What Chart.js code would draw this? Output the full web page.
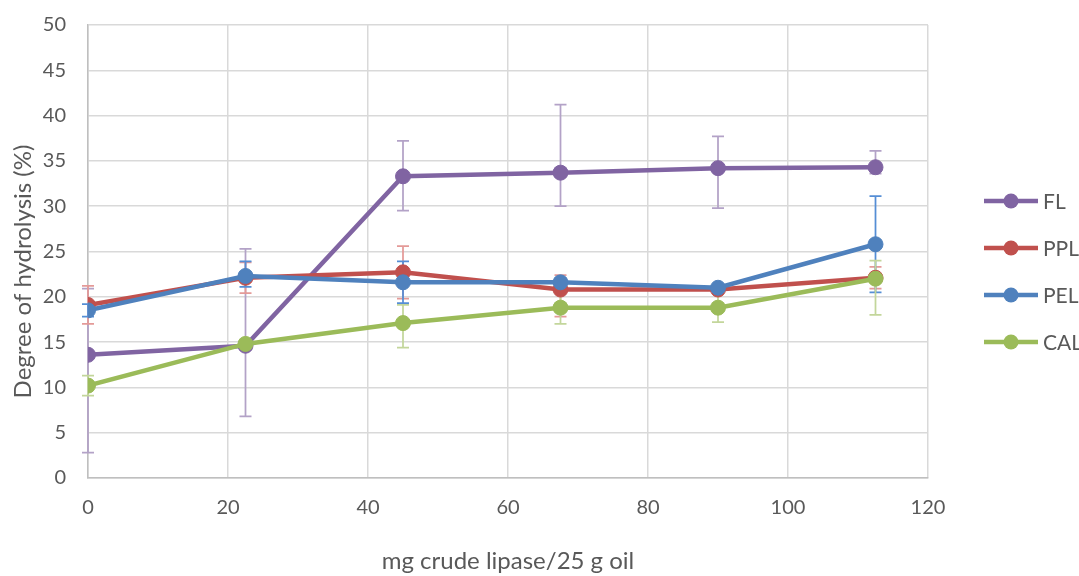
<!DOCTYPE html>
<html>
<head>
<meta charset="utf-8">
<script src="https://cdn.jsdelivr.net/npm/chart.js@4"></script>
<style>
  html, body { margin: 0; padding: 0; background: #fff; }
  #wrap { width: 1079px; height: 576px; }
</style>
</head>
<body>
<div id="wrap"><canvas id="hydroChart" width="1079" height="576"></canvas></div>
<script>
// values
const doses = [0, 22.5, 45, 67.5, 90, 112.5];
const xTicks = [0, 20, 40, 60, 80, 100, 120];

const flValues = [13.6, 14.6, 33.3, 33.7, 34.2, 34.3];
const flHigh = [20.9, 25.3, 37.2, 41.2, 37.7, 36.1];
const flLow = [2.8, 6.8, 29.5, 30.0, 29.8, 33.6];

const pplValues = [19.1, 22.1, 22.7, 20.8, 20.8, 22.1];
const pplHigh = [21.2, 23.8, 25.6, 22.4, 21.2, 23.3];
const pplLow = [17.0, 20.4, 19.8, 17.8, 20.4, 20.9];

const pelValues = [18.5, 22.3, 21.6, 21.6, 21.0, 25.8];
const pelHigh = [19.2, 23.9, 23.9, 22.0, 21.3, 31.1];
const pelLow = [17.8, 21.1, 19.3, 21.2, 20.7, 20.5];

const calValues = [10.2, 14.8, 17.1, 18.8, 18.8, 22.0];
const calHigh = [11.3, 15.2, 19.1, 20.6, 20.4, 24.0];
const calLow = [9.1, 14.4, 14.4, 17.0, 17.2, 18.0];

const yTitle = 'Degree of hydrolysis (%)';

const fontFamily = 'Lato, "Open Sans", sans-serif';
const textColor = '#595959';

function pts(values) {
    return values.map((v, i) => ({ x: doses[i], y: v }));
}

function series(label, values, color, errColor, high, low, order) {
    return {
        label: label,
        data: pts(values),
        borderColor: color,
        backgroundColor: color,
        borderWidth: 4.5,
        pointRadius: 7.5,
        pointHoverRadius: 7.5,
        pointBackgroundColor: color,
        pointBorderColor: color,
        pointBorderWidth: 1,
        tension: 0,
        order: order,
        errHigh: high,
        errLow: low,
        errColor: errColor
    };
}

// vertical error bars with caps, under the lines
const errorBars = {
    id: 'errorBars',
    beforeDatasetsDraw(chart) {
        const { ctx, scales: { x, y } } = chart;
        ctx.save();
        ctx.lineWidth = 1.75;
        chart.data.datasets.forEach(ds => {
            ctx.strokeStyle = ds.errColor;
            ds.data.forEach((p, i) => {
                const px = x.getPixelForValue(p.x);
                const top = y.getPixelForValue(ds.errHigh[i]);
                const bot = y.getPixelForValue(ds.errLow[i]);
                ctx.beginPath();
                ctx.moveTo(px, top); ctx.lineTo(px, bot);
                ctx.moveTo(px - 6, top); ctx.lineTo(px + 6, top);
                ctx.moveTo(px - 6, bot); ctx.lineTo(px + 6, bot);
                ctx.stroke();
            });
        });
        ctx.restore();
    }
};

// legend on the right (line with a round marker, then the name) and the y title
const sideLegend = {
    id: 'sideLegend',
    afterDraw(chart) {
        const { ctx, chartArea } = chart;
        const x0 = chartArea.right + 56;
        const mid = (chartArea.top + chartArea.bottom) / 2 + 20;
        const gap = 47;
        const items = chart.data.datasets;
        ctx.save();
        ctx.font = '21px ' + fontFamily;
        ctx.textBaseline = 'middle';
        items.forEach((ds, i) => {
            const yy = mid + (i - (items.length - 1) / 2) * gap;
            ctx.strokeStyle = ds.borderColor;
            ctx.lineWidth = 4.5;
            ctx.beginPath();
            ctx.moveTo(x0, yy); ctx.lineTo(x0 + 54, yy);
            ctx.stroke();
            ctx.fillStyle = ds.borderColor;
            ctx.beginPath();
            ctx.arc(x0 + 27, yy, 7.5, 0, Math.PI * 2);
            ctx.fill();
            ctx.fillStyle = textColor;
            ctx.fillText(ds.label, x0 + 59, yy + 1);
        });
        // y axis title
        ctx.font = '24px ' + fontFamily;
        ctx.textAlign = 'center';
        ctx.translate(23, mid);
        ctx.rotate(-Math.PI / 2);
        ctx.fillText(yTitle, 0, 0);
        ctx.restore();
    }
};

const ctx = document.getElementById('hydroChart').getContext('2d');
const hydroChart = new Chart(ctx, {
    type: 'line',
    data: {
        datasets: [
            series('FL', flValues, '#8064A2', '#b3a2c7', flHigh, flLow, 4),
            series('PPL', pplValues, '#C0504D', '#e49a98', pplHigh, pplLow, 3),
            series('PEL', pelValues, '#4F81BD', '#558ed5', pelHigh, pelLow, 2),
            series('CAL', calValues, '#9BBB59', '#c3d69b', calHigh, calLow, 1)
        ]
    },
    options: {
        responsive: false,
        animation: false,
        layout: { padding: { top: 25, right: 151, left: 0, bottom: 0 } },
        plugins: {
            legend: { display: false },
            tooltip: { enabled: false }
        },
        scales: {
            x: {
                type: 'linear',
                min: 0,
                max: 120,
                afterBuildTicks: scale => { scale.ticks = xTicks.map(v => ({ value: v })); },
                afterFit: scale => { scale.height = 98; },
                grid: { color: '#d9d9d9', lineWidth: 1.5, drawTicks: false },
                border: { color: '#bfbfbf', width: 1.5 },
                ticks: { padding: 18, color: textColor, font: { size: 20, family: fontFamily }, maxRotation: 0 },
                title: {
                    display: true,
                    text: 'mg crude lipase/25 g oil',
                    color: textColor,
                    font: { size: 24, family: fontFamily },
                    padding: { top: 0, bottom: 0 }
                }
            },
            y: {
                min: 0,
                max: 50,
                afterFit: scale => {
                    scale.width = 88;
                    scale.paddingTop = 0;
                    scale.paddingBottom = 0;
                },
                grid: { color: '#d9d9d9', lineWidth: 1.5, drawTicks: false },
                border: { color: '#bfbfbf', width: 1.5 },
                ticks: { stepSize: 5, padding: 22, color: textColor, font: { size: 20, family: fontFamily } }
            }
        }
    },
    plugins: [errorBars, sideLegend]
});
</script>
</body>
</html>
